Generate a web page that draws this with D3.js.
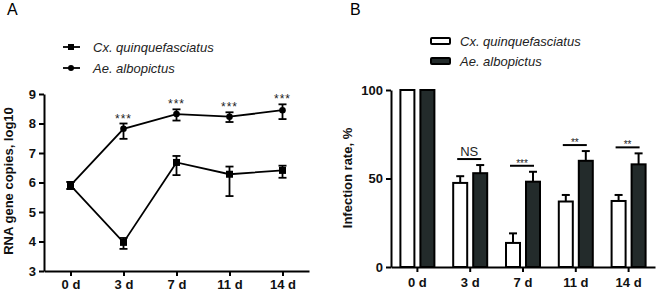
<!DOCTYPE html>
<html>
<head>
<meta charset="utf-8">
<script src="https://cdn.jsdelivr.net/npm/d3@7"></script>
<style>
  body { margin: 0; background: #fff; }
  svg { display: block; font-family: "Liberation Sans", Arial, sans-serif; }
  .axis path, .axis line { stroke: #000; stroke-width: 2; }
  .axis text { font-size: 13px; font-weight: bold; fill: #111; }
</style>
</head>
<body>
<div id="chart"></div>
<script>
// data
const days = ["0 d", "3 d", "7 d", "11 d", "14 d"];

// panel A : RNA copies (log10)
const cxRna = [5.9, 3.97, 6.68, 6.28, 6.41];
const cxRnaLow = [5.78, 3.75, 6.25, 5.54, 6.16];
const cxRnaHigh = [6.02, 4.12, 6.9, 6.54, 6.57];
const aeRna = [5.9, 7.82, 8.32, 8.23, 8.45];
const aeRnaLow = [5.78, 7.48, 8.1, 8.05, 8.15];
const aeRnaHigh = [6.02, 8.0, 8.48, 8.38, 8.65];
const rnaStars = ["", "***", "***", "***", "***"];
const rnaTicks = [3, 4, 5, 6, 7, 8, 9];

// panel B : infection rate (%)
const cxRate = [100, 47.5, 13.6, 37, 37.3];
const cxRateErr = [0, 3.8, 5.4, 3.7, 3.4];
const aeRate = [100, 53, 48.2, 60, 58];
const aeRateErr = [0, 4.6, 5.6, 5.5, 6.2];
const rateSig = ["", "NS", "***", "**", "**"];
const rateTicks = [0, 50, 100];

const species = ["Cx. quinquefasciatus", "Ae. albopictus"];

let svg = d3.select('#chart')
    .append('svg')
    .attr('width', 659)
    .attr('height', 291);

// ---------- panel A ----------
let xA = d3.scalePoint().domain(days).range([44, 309]).padding(0.5);
let yA = d3.scaleLinear().domain([3, 9]).range([271, 94]);

svg.append("text").attr("x", 7).attr("y", 15)
    .style("font-size", "16px").text("A");

svg.append("g").attr("class", "axis")
    .attr("transform", "translate(0,271)")
    .call(d3.axisBottom(xA).tickSize(5).tickSizeOuter(0).tickPadding(4));
svg.append("g").attr("class", "axis")
    .attr("transform", "translate(44,0)")
    .call(d3.axisLeft(yA).tickValues(rnaTicks).tickFormat(d3.format('d')).tickSize(5).tickSizeOuter(0).tickPadding(3));

svg.append("text")
    .attr("transform", "translate(13,181) rotate(-90)")
    .attr("text-anchor", "middle")
    .style("font-size", "13px").style("font-weight", "bold").style("fill", "#111")
    .text("RNA gene copies, log10");

let lineA = d3.line().x((d, i) => xA(days[i])).y(d => yA(d));

function rnaSeries(vals, lo, hi, shape) {
    svg.append("path").attr("d", lineA(vals))
        .attr("fill", "none").attr("stroke", "#000").attr("stroke-width", 1.8);
    vals.forEach(function(d, i) {
        let x = xA(days[i]);
        let g = svg.append("g").attr("stroke", "#000").attr("stroke-width", 1.8);
        g.append("line").attr("x1", x).attr("x2", x).attr("y1", yA(lo[i])).attr("y2", yA(hi[i]));
        g.append("line").attr("x1", x - 4).attr("x2", x + 4).attr("y1", yA(lo[i])).attr("y2", yA(lo[i]));
        g.append("line").attr("x1", x - 4).attr("x2", x + 4).attr("y1", yA(hi[i])).attr("y2", yA(hi[i]));
        if (shape == "square") {
            svg.append("rect").attr("x", x - 3.5).attr("y", yA(d) - 3.5)
                .attr("width", 7).attr("height", 7).attr("fill", "#000");
        } else {
            svg.append("circle").attr("cx", x).attr("cy", yA(d)).attr("r", 3.3).attr("fill", "#000");
        }
    });
}
rnaSeries(aeRna, aeRnaLow, aeRnaHigh, "circle");
rnaSeries(cxRna, cxRnaLow, cxRnaHigh, "square");

rnaStars.forEach(function(s, i) {
    if (!s) return;
    svg.append("text")
        .attr("x", xA(days[i])).attr("y", yA(aeRnaHigh[i]) - 1)
        .attr("text-anchor", "middle")
        .style("font-size", "12px").style("letter-spacing", "1px").style("fill", "#222")
        .text(s);
});

// legend A
species.forEach(function(name, i) {
    let y = 47 + i * 21;
    svg.append("line").attr("x1", 63).attr("x2", 80).attr("y1", y).attr("y2", y)
        .attr("stroke", "#000").attr("stroke-width", 1.8);
    if (i == 0) {
        svg.append("rect").attr("x", 68).attr("y", y - 3).attr("width", 6).attr("height", 6).attr("fill", "#000");
    } else {
        svg.append("circle").attr("cx", 71).attr("cy", y).attr("r", 3).attr("fill", "#000");
    }
    svg.append("text").attr("x", 93).attr("y", y + 5)
        .style("font-size", "13px").style("font-style", "italic").style("fill", "#222")
        .text(name);
});

// ---------- panel B ----------
let xB = d3.scaleBand().domain(days).range([391, 655]);
let yB = d3.scaleLinear().domain([0, 100]).range([267, 90]);
let mid = d => xB(d) + xB.bandwidth() / 2;

svg.append("text").attr("x", 350).attr("y", 15)
    .style("font-size", "16px").text("B");

svg.append("text")
    .attr("transform", "translate(352,178) rotate(-90)")
    .attr("text-anchor", "middle")
    .style("font-size", "13px").style("font-weight", "bold").style("fill", "#111")
    .text("Infection rate, %");

function rateSeries(vals, err, dx, fill) {
    vals.forEach(function(d, i) {
        let x = mid(days[i]) + dx;
        if (err[i] > 0) {
            let g = svg.append("g").attr("stroke", "#000").attr("stroke-width", 2);
            g.append("line").attr("x1", x + 7).attr("x2", x + 7).attr("y1", yB(d)).attr("y2", yB(d + err[i]));
            g.append("line").attr("x1", x + 3).attr("x2", x + 11).attr("y1", yB(d + err[i])).attr("y2", yB(d + err[i]));
        }
        svg.append("rect")
            .attr("x", x).attr("y", yB(d))
            .attr("width", 14).attr("height", yB(0) - yB(d))
            .attr("fill", fill).attr("stroke", "#000").attr("stroke-width", 2);
    });
}
rateSeries(cxRate, cxRateErr, -17, "#fff");
rateSeries(aeRate, aeRateErr, 3, "#232b2b");

svg.append("g").attr("class", "axis")
    .attr("transform", "translate(0,267)")
    .call(d3.axisBottom(xB).tickSize(5).tickSizeOuter(0).tickPadding(6));
svg.append("g").attr("class", "axis")
    .attr("transform", "translate(391,0)")
    .call(d3.axisLeft(yB).tickValues(rateTicks).tickSize(5).tickSizeOuter(0).tickPadding(3));

rateSig.forEach(function(s, i) {
    if (!s) return;
    let c = mid(days[i]);
    let top = Math.max(cxRate[i] + cxRateErr[i], aeRate[i] + aeRateErr[i]);
    let y = yB(top) - 6;
    svg.append("line").attr("x1", c - 13).attr("x2", c + 11).attr("y1", y).attr("y2", y)
        .attr("stroke", "#000").attr("stroke-width", 2);
    svg.append("text").attr("x", c - 1).attr("y", s == "NS" ? y - 3 : y + 1)
        .attr("text-anchor", "middle")
        .style("font-size", s == "NS" ? "13px" : "10px").style("fill", "#222")
        .text(s);
});

// legend B
species.forEach(function(name, i) {
    let y = 41 + i * 20;
    svg.append("rect").attr("x", 431).attr("y", y - 3).attr("width", 19).attr("height", 6)
        .attr("rx", 1).attr("fill", i == 0 ? "#fff" : "#232b2b")
        .attr("stroke", "#000").attr("stroke-width", 2);
    svg.append("text").attr("x", 460).attr("y", y + 5)
        .style("font-size", "13px").style("font-style", "italic").style("fill", "#222")
        .text(name);
});
</script>
</body>
</html>
